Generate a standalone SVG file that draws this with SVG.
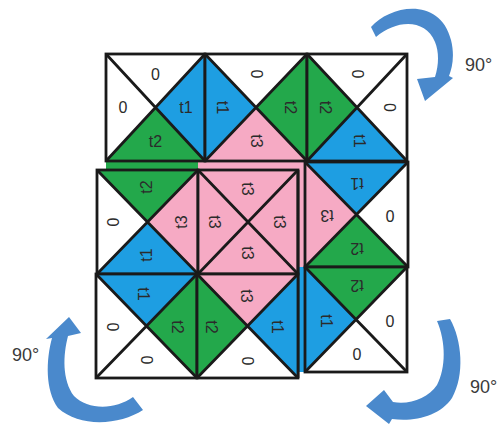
<svg xmlns="http://www.w3.org/2000/svg" width="502" height="429" viewBox="0 0 502 429">
<style>
.g{fill:#23a84b}.b{fill:#1e9ee2}.p{fill:#f6aac4}.w{fill:#fff}
.ln{fill:none;stroke:#1a1a1a;stroke-width:2.8}
.lb{font-family:"Liberation Sans",Arial,sans-serif;font-size:16px;fill:#2b2b2b;text-anchor:middle;dominant-baseline:central}
.deg{font-family:"Liberation Sans",Arial,sans-serif;font-size:18px;fill:#3a3a3a}
.arr{fill:#4a89cc}
</style>
<rect width="502" height="429" fill="#fff"/>
<g id="gaps">
<rect class="g" x="106" y="161" width="94" height="10"/>
<rect class="p" x="198" y="161" width="107" height="10"/>
<rect class="p" x="298" y="162" width="7" height="105"/>
<rect class="b" x="298" y="267" width="7" height="105"/>
</g>
<g id="tile-top-left">
<polygon class="w" points="106,54 205,54 155.5,107.5"/>
<polygon class="b" points="205,54 205,161 155.5,107.5"/>
<polygon class="g" points="106,161 205,161 155.5,107.5"/>
<polygon class="w" points="106,54 106,161 155.5,107.5"/>
<rect class="ln" x="106" y="54" width="99" height="107"/>
<path class="ln" d="M106 54L205 161M205 54L106 161"/>
<text class="lb" x="155.5" y="74">0</text>
<text class="lb" x="186" y="107.5">t1</text>
<text class="lb" x="155.5" y="141">t2</text>
<text class="lb" x="123" y="107.5">0</text>
</g>
<g id="tile-top-middle">
<polygon class="w" points="205,54 307,54 256,107.5"/>
<polygon class="g" points="307,54 307,161 256,107.5"/>
<polygon class="p" points="205,161 307,161 256,107.5"/>
<polygon class="b" points="205,54 205,161 256,107.5"/>
<rect class="ln" x="205" y="54" width="102" height="107"/>
<path class="ln" d="M205 54L307 161M307 54L205 161"/>
<text class="lb" x="256" y="74" transform="rotate(90 256 74)">0</text>
<text class="lb" x="290" y="107.5" transform="rotate(90 290 107.5)">t2</text>
<text class="lb" x="256" y="141" transform="rotate(90 256 141)">t3</text>
<text class="lb" x="222" y="107.5" transform="rotate(90 222 107.5)">t1</text>
</g>
<g id="tile-top-right">
<polygon class="w" points="307,54 407,54 357,107.5"/>
<polygon class="w" points="407,54 407,161 357,107.5"/>
<polygon class="b" points="307,161 407,161 357,107.5"/>
<polygon class="g" points="307,54 307,161 357,107.5"/>
<rect class="ln" x="307" y="54" width="100" height="107"/>
<path class="ln" d="M307 54L407 161M407 54L307 161"/>
<text class="lb" x="357" y="74" transform="rotate(90 357 74)">0</text>
<text class="lb" x="389" y="107.5" transform="rotate(90 389 107.5)">0</text>
<text class="lb" x="359" y="141" transform="rotate(90 359 141)">t1</text>
<text class="lb" x="325" y="107.5" transform="rotate(90 325 107.5)">t2</text>
</g>
<g id="tile-middle-left">
<polygon class="g" points="97,170 198,170 147.5,222"/>
<polygon class="p" points="198,170 198,274 147.5,222"/>
<polygon class="b" points="97,274 198,274 147.5,222"/>
<polygon class="w" points="97,170 97,274 147.5,222"/>
<rect class="ln" x="97" y="170" width="101" height="104"/>
<path class="ln" d="M97 170L198 274M198 170L97 274"/>
<text class="lb" x="146" y="187" transform="rotate(-90 146 187)">t2</text>
<text class="lb" x="181" y="222" transform="rotate(-90 181 222)">t3</text>
<text class="lb" x="146" y="255" transform="rotate(-90 146 255)">t1</text>
<text class="lb" x="113" y="222" transform="rotate(-90 113 222)">0</text>
</g>
<g id="tile-middle-center">
<polygon class="p" points="198,170 298,170 298,274 198,274"/>
<rect class="ln" x="198" y="170" width="100" height="104"/>
<path class="ln" d="M198 170L298 274M298 170L198 274"/>
<text class="lb" x="247" y="189" transform="rotate(90 247 189)">t3</text>
<text class="lb" x="279" y="222" transform="rotate(90 279 222)">t3</text>
<text class="lb" x="247" y="253" transform="rotate(90 247 253)">t3</text>
<text class="lb" x="214" y="222" transform="rotate(90 214 222)">t3</text>
</g>
<g id="tile-middle-right">
<polygon class="b" points="305,162 408,162 356.5,214.5"/>
<polygon class="w" points="408,162 408,267 356.5,214.5"/>
<polygon class="g" points="305,267 408,267 356.5,214.5"/>
<polygon class="p" points="305,162 305,267 356.5,214.5"/>
<rect class="ln" x="305" y="162" width="103" height="105"/>
<path class="ln" d="M305 162L408 267M408 162L305 267M298 170V378"/>
<text class="lb" x="357" y="183" transform="rotate(180 357 183)">t1</text>
<text class="lb" x="390" y="215" transform="rotate(180 390 215)">0</text>
<text class="lb" x="357" y="248" transform="rotate(180 357 248)">t2</text>
<text class="lb" x="327" y="215" transform="rotate(180 327 215)">t3</text>
</g>
<g id="tile-bottom-left">
<polygon class="b" points="96,274 197,274 146.5,326"/>
<polygon class="g" points="197,274 197,378 146.5,326"/>
<polygon class="w" points="96,378 197,378 146.5,326"/>
<polygon class="w" points="96,274 96,378 146.5,326"/>
<rect class="ln" x="96" y="274" width="101" height="104"/>
<path class="ln" d="M96 274L197 378M197 274L96 378"/>
<text class="lb" x="143" y="294" transform="rotate(90 143 294)">t1</text>
<text class="lb" x="177" y="327" transform="rotate(90 177 327)">t2</text>
<text class="lb" x="146" y="360" transform="rotate(90 146 360)">0</text>
<text class="lb" x="112" y="327" transform="rotate(90 112 327)">0</text>
</g>
<g id="tile-bottom-center">
<polygon class="p" points="197,274 298,274 247.5,326"/>
<polygon class="b" points="298,274 298,378 247.5,326"/>
<polygon class="w" points="197,378 298,378 247.5,326"/>
<polygon class="g" points="197,274 197,378 247.5,326"/>
<rect class="ln" x="197" y="274" width="101" height="104"/>
<path class="ln" d="M197 274L298 378M298 274L197 378"/>
<text class="lb" x="246" y="296" transform="rotate(90 246 296)">t3</text>
<text class="lb" x="277" y="327" transform="rotate(90 277 327)">t1</text>
<text class="lb" x="247" y="361" transform="rotate(90 247 361)">0</text>
<text class="lb" x="211" y="327" transform="rotate(90 211 327)">t2</text>
</g>
<g id="tile-bottom-right">
<polygon class="g" points="305,267 407,267 356,319.5"/>
<polygon class="w" points="407,267 407,372 356,319.5"/>
<polygon class="w" points="305,372 407,372 356,319.5"/>
<polygon class="b" points="305,267 305,372 356,319.5"/>
<rect class="ln" x="305" y="267" width="102" height="105"/>
<path class="ln" d="M305 267L407 372M407 267L305 372"/>
<text class="lb" x="357" y="285" transform="rotate(180 357 285)">t2</text>
<text class="lb" x="390" y="321">0</text>
<text class="lb" x="357" y="354">0</text>
<text class="lb" x="326" y="321" transform="rotate(90 326 321)">t1</text>
</g>
<g id="rotation-arrows">
<path class="arr" d="M371 27 C390 5 440 -4 451 40 C455 56 452 68 449 76 L453 78 L425 101 L417 79 L435 77 C439 64 439 52 435 42 C425 18 396 20 376 37 Z"/>
<path class="arr" d="M46 339 L69 317 L81 333 L68 336 C63 355 62 380 74 396 C88 410 115 410 133 397 L143 410 C120 425 80 428 58 408 C45 390 46 360 52 338 Z"/>
<path class="arr" d="M437 321 L450 319 C462 340 465 375 452 398 C440 416 415 422 392 419 L389 424 L366 406 L384 390 L393 402 C410 405 428 398 437 385 C446 368 446 342 437 321 Z"/>
<text class="deg" x="465" y="71">90°</text>
<text class="deg" x="12" y="361">90°</text>
<text class="deg" x="470" y="393">90°</text>
</g>
</svg>
